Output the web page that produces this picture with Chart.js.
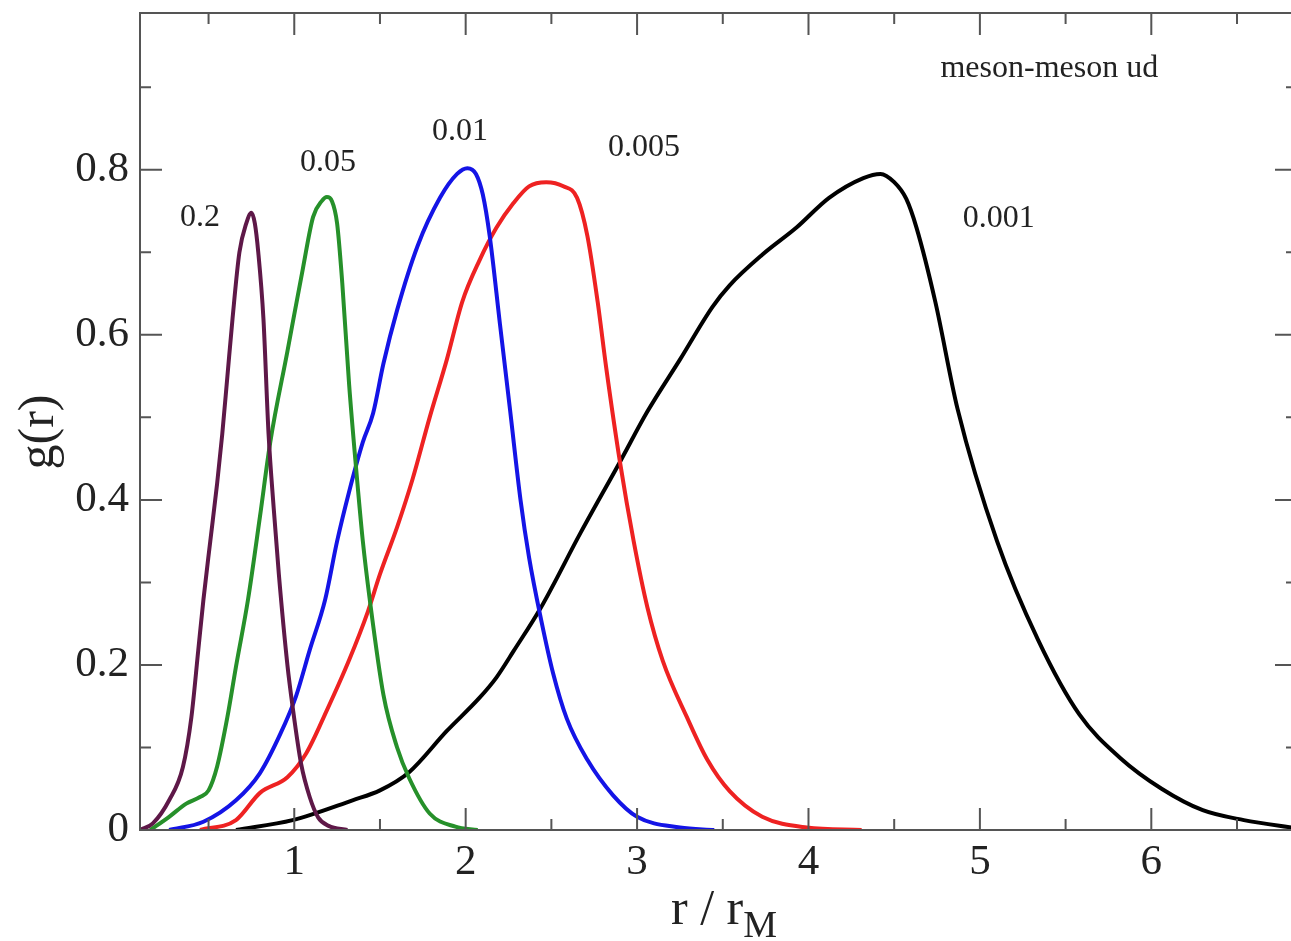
<!DOCTYPE html>
<html>
<head>
<meta charset="utf-8">
<script src="https://cdn.jsdelivr.net/npm/chart.js@4.4.1/dist/chart.umd.min.js"></script>
<style>
  html, body { margin: 0; padding: 0; background: #fff; overflow: hidden; }
  canvas { display: block; }
</style>
</head>
<body>
<canvas id="chart" width="1300" height="941"></canvas>
<script>
// g(r) curves, one pair of arrays per quark mass label
const r02 = [0.10, 0.175, 0.27, 0.35, 0.40, 0.44, 0.47, 0.51, 0.55, 0.58, 0.61, 0.64, 0.68, 0.72, 0.75, 0.77, 0.79, 0.82, 0.85, 0.88, 0.91, 0.96, 0.99, 1.04, 1.09, 1.14, 1.20, 1.31];
const g02 = [0.0, 0.008, 0.036, 0.076, 0.137, 0.218, 0.279, 0.35, 0.42, 0.48, 0.55, 0.62, 0.70, 0.735, 0.748, 0.735, 0.70, 0.62, 0.48, 0.39, 0.31, 0.20, 0.15, 0.08, 0.04, 0.015, 0.005, 0.0];

const r005 = [0.16, 0.27, 0.37, 0.45, 0.50, 0.55, 0.61, 0.66, 0.73, 0.80, 0.86, 0.96, 1.05, 1.11, 1.16, 1.19, 1.22, 1.25, 1.28, 1.32, 1.36, 1.40, 1.44, 1.52, 1.60, 1.67, 1.79, 1.94, 2.07];
const g005 = [0.0, 0.016, 0.032, 0.04, 0.048, 0.077, 0.137, 0.198, 0.279, 0.38, 0.47, 0.58, 0.68, 0.743, 0.762, 0.767, 0.762, 0.735, 0.663, 0.54, 0.44, 0.35, 0.28, 0.164, 0.10, 0.063, 0.02, 0.004, 0.0];

const r001 = [0.27, 0.47, 0.66, 0.80, 0.92, 1.01, 1.09, 1.18, 1.25, 1.32, 1.40, 1.46, 1.52, 1.60, 1.72, 1.85, 1.95, 2.01, 2.06, 2.10, 2.14, 2.20, 2.26, 2.32, 2.37, 2.44, 2.51, 2.59, 2.71, 2.86, 3.00, 3.25, 3.45];
const g001 = [0.0, 0.01, 0.036, 0.069, 0.117, 0.162, 0.218, 0.279, 0.35, 0.41, 0.47, 0.505, 0.565, 0.63, 0.708, 0.766, 0.795, 0.802, 0.795, 0.77, 0.72, 0.613, 0.507, 0.40, 0.33, 0.255, 0.19, 0.135, 0.085, 0.042, 0.016, 0.003, 0.0];

const r0005 = [0.45, 0.66, 0.80, 0.96, 1.07, 1.19, 1.32, 1.43, 1.50, 1.60, 1.69, 1.79, 1.89, 1.98, 2.08, 2.18, 2.28, 2.37, 2.47, 2.57, 2.65, 2.71, 2.77, 2.82, 2.90, 2.98, 3.06, 3.15, 3.29, 3.41, 3.54, 3.73, 3.99, 4.31];
const g0005 = [0.0, 0.012, 0.045, 0.064, 0.093, 0.145, 0.206, 0.265, 0.31, 0.367, 0.425, 0.50, 0.57, 0.64, 0.69, 0.73, 0.76, 0.78, 0.785, 0.78, 0.766, 0.72, 0.64, 0.56, 0.446, 0.35, 0.27, 0.205, 0.137, 0.085, 0.047, 0.016, 0.003, 0.0];

const r0001 = [0.66, 0.99, 1.34, 1.50, 1.67, 1.89, 2.08, 2.18, 2.28, 2.44, 2.67, 2.90, 3.06, 3.25, 3.44, 3.54, 3.73, 3.93, 4.12, 4.32, 4.42, 4.50, 4.57, 4.63, 4.74, 4.87, 5.10, 5.34, 5.58, 5.82, 6.06, 6.30, 6.54, 6.85];
const g0001 = [0.0, 0.012, 0.036, 0.048, 0.07, 0.12, 0.16, 0.185, 0.217, 0.27, 0.36, 0.446, 0.507, 0.57, 0.634, 0.66, 0.697, 0.73, 0.766, 0.79, 0.795, 0.785, 0.765, 0.73, 0.64, 0.51, 0.35, 0.23, 0.14, 0.087, 0.05, 0.024, 0.012, 0.002];

const seriesNames = ['0.2', '0.05', '0.01', '0.005', '0.001'];
const seriesColors = ['#5e1848', '#26902a', '#1414e6', '#ee2222', '#000000'];

// axis ticks
const xMajor = [1, 2, 3, 4, 5, 6];
const xMinor = [0.5, 1.5, 2.5, 3.5, 4.5, 5.5, 6.5];
const yMajor = [0, 0.2, 0.4, 0.6, 0.8];
const yMinor = [0.1, 0.3, 0.5, 0.7, 0.9];

// text labels placed in data coordinates (r, g)
const labelText = ['0.2', '0.05', '0.01', '0.005', '0.001', 'meson-meson ud'];
const labelR = [0.333, 1.033, 1.803, 2.83, 4.90, 4.77];
const labelG = [0.732, 0.798, 0.836, 0.817, 0.731, 0.912];

const SERIF = '"Liberation Serif", "Times New Roman", serif';
const pairs = (xs, ys) => xs.map((x, i) => ({ x, y: ys[i] }));

const curves = [[r02, g02], [r005, g005], [r001, g001], [r0005, g0005], [r0001, g0001]];

const frameTicks = {
  id: 'frameTicks',
  afterDraw(chart) {
    const { ctx, chartArea: a, scales: { x, y } } = chart;
    ctx.save();
    ctx.strokeStyle = '#555';
    ctx.lineWidth = 2;
    const major = 22, minor = 11;
    ctx.beginPath();
    const xt = (v, len) => {
      const px = x.getPixelForValue(v);
      ctx.moveTo(px, a.bottom); ctx.lineTo(px, a.bottom - len);
      ctx.moveTo(px, a.top); ctx.lineTo(px, a.top + len);
    };
    const yt = (v, len) => {
      const py = y.getPixelForValue(v);
      ctx.moveTo(a.left, py); ctx.lineTo(a.left + len, py);
      ctx.moveTo(a.right, py); ctx.lineTo(a.right - len, py);
    };
    xMajor.forEach(v => xt(v, major));
    xMinor.forEach(v => xt(v, minor));
    yMajor.forEach(v => yt(v, major));
    yMinor.forEach(v => yt(v, minor));
    ctx.stroke();
    ctx.strokeRect(a.left, a.top, a.right - a.left, a.bottom - a.top);

    // curve labels
    ctx.fillStyle = '#222';
    ctx.font = '32px ' + SERIF;
    ctx.textAlign = 'left';
    ctx.textBaseline = 'alphabetic';
    labelText.forEach((t, i) => {
      ctx.fillText(t, x.getPixelForValue(labelR[i]), y.getPixelForValue(labelG[i]));
    });

    // axis titles
    ctx.font = '50px ' + SERIF;
    ctx.save();
    ctx.translate(40, 432);
    ctx.rotate(-Math.PI / 2);
    ctx.textAlign = 'center';
    ctx.textBaseline = 'middle';
    ctx.fillText('g(r)', 0, 0);
    ctx.restore();

    const main = 'r / r';
    const w1 = ctx.measureText(main).width;
    ctx.font = '38px ' + SERIF;
    const w2 = ctx.measureText('M').width;
    const left = 724 - (w1 + w2) / 2;
    ctx.font = '50px ' + SERIF;
    ctx.fillText(main, left, 924);
    ctx.font = '38px ' + SERIF;
    ctx.fillText('M', left + w1, 937);
    ctx.restore();
  }
};

const noPad = s => { s.paddingTop = 0; s.paddingBottom = 0; s.paddingLeft = 0; s.paddingRight = 0; };

new Chart(document.getElementById('chart'), {
  type: 'line',
  data: {
    datasets: curves.map(([xs, ys], i) => ({
      label: seriesNames[i],
      data: pairs(xs, ys),
      borderColor: seriesColors[i],
      borderWidth: 4,
      pointRadius: 0,
      cubicInterpolationMode: 'monotone',
      fill: false,
    })),
  },
  options: {
    responsive: false,
    animation: false,
    events: [],
    layout: { padding: { top: 13, right: 3, left: 0, bottom: 0 } },
    plugins: { legend: { display: false }, tooltip: { enabled: false } },
    scales: {
      x: {
        type: 'linear',
        min: 0.1,
        max: 6.85,
        grid: { display: false, drawTicks: false },
        border: { display: false },
        afterBuildTicks: s => { s.ticks = xMajor.map(v => ({ value: v })); },
        afterFit: s => { s.height = 111; noPad(s); },
        ticks: {
          autoSkip: false,
          maxRotation: 0,
          padding: 7,
          color: '#222',
          font: { family: SERIF, size: 43 },
          callback: v => String(v),
        },
      },
      y: {
        type: 'linear',
        min: 0,
        max: 0.99,
        grid: { display: false, drawTicks: false },
        border: { display: false },
        afterBuildTicks: s => { s.ticks = yMajor.map(v => ({ value: v })); },
        afterFit: s => { s.width = 140; noPad(s); },
        ticks: {
          autoSkip: false,
          padding: 11,
          color: '#222',
          font: { family: SERIF, size: 43 },
          callback: v => (v === 0 ? '0' : v.toFixed(1)),
        },
      },
    },
  },
  plugins: [frameTicks],
});
</script>
</body>
</html>
